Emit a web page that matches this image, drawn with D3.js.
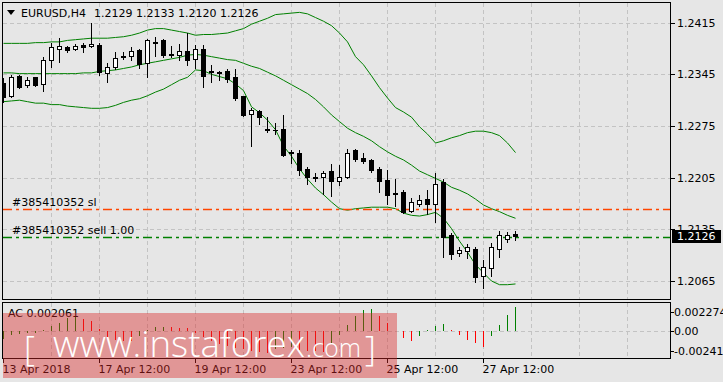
<!DOCTYPE html>
<html lang="en">
<head>
<meta charset="UTF-8">
<title>EURUSD,H4</title>
<style>
  html, body { margin: 0; padding: 0; background: #e6e6e6; }
  svg { display: block; font-family: "DejaVu Sans", sans-serif; }
</style>
</head>
<body>
<div id="chart"></div>
<script src="https://d3js.org/d3.v7.min.js"></script>
<script>

// H4 bars, 13 Apr 2018 12:00 .. 27 Apr 2018 20:00
const openP = [1.2333,1.2316,1.2343,1.2330,1.2341,1.2332,1.2364,1.2380,1.2382,1.2379,
  1.2385,1.2383,1.2385,1.2347,1.2355,1.2369,1.2370,1.2378,1.2360,1.2389,
  1.2392,1.2371,1.2371,1.2377,1.2366,1.2379,1.2349,1.2347,1.2349,1.2341,
  1.2315,1.2291,1.2296,1.2271,1.2270,1.2271,1.2240,1.2239,1.2217,1.2206,
  1.2206,1.2214,1.2201,1.2206,1.2242,1.2232,1.2229,1.2217,1.2202,1.2184,
  1.2186,1.2160,1.2170,1.2176,1.2170,1.2199,1.2127,1.2103,1.2106,1.2109,
  1.2072,1.2082,1.2109,1.2122,1.2129];
const highP = [1.2340,1.2344,1.2344,1.2341,1.2342,1.2369,1.2387,1.2394,1.2384,1.2386,
  1.2388,1.2414,1.2387,1.2360,1.2375,1.2375,1.2382,1.2380,1.2393,1.2396,
  1.2393,1.2384,1.2386,1.2401,1.2385,1.2385,1.2358,1.2350,1.2352,1.2352,
  1.2316,1.2300,1.2297,1.2287,1.2279,1.2290,1.2243,1.2243,1.2220,1.2211,
  1.2214,1.2224,1.2222,1.2244,1.2244,1.2238,1.2230,1.2220,1.2215,1.2203,
  1.2188,1.2177,1.2182,1.2188,1.2211,1.2203,1.2130,1.2111,1.2115,1.2111,
  1.2094,1.2116,1.2133,1.2132,1.2133];
const lowP = [1.2308,1.2314,1.2327,1.2328,1.2329,1.2323,1.2355,1.2362,1.2375,1.2378,
  1.2375,1.2382,1.2344,1.2335,1.2352,1.2366,1.2364,1.2353,1.2341,1.2370,
  1.2369,1.2369,1.2364,1.2358,1.2354,1.2328,1.2335,1.2337,1.2335,1.2310,
  1.2289,1.2248,1.2278,1.2267,1.2264,1.2235,1.2225,1.2209,1.2197,1.2201,
  1.2183,1.2180,1.2195,1.2204,1.2228,1.2225,1.2213,1.2186,1.2170,1.2166,
  1.2157,1.2158,1.2167,1.2156,1.2145,1.2097,1.2095,1.2099,1.2096,1.2063,
  1.2055,1.2072,1.2098,1.2118,1.2120];
const closeP = [1.2314,1.2341,1.2328,1.2338,1.2330,1.2365,1.2382,1.2383,1.2378,1.2383,
  1.2382,1.2386,1.2348,1.2355,1.2367,1.2370,1.2377,1.2359,1.2391,1.2388,
  1.2371,1.2372,1.2377,1.2365,1.2379,1.2343,1.2348,1.2348,1.2339,1.2313,
  1.2290,1.2297,1.2287,1.2270,1.2269,1.2236,1.2239,1.2216,1.2206,1.2205,
  1.2212,1.2201,1.2206,1.2239,1.2230,1.2228,1.2215,1.2201,1.2182,1.2183,
  1.2159,1.2172,1.2175,1.2170,1.2197,1.2124,1.2101,1.2107,1.2111,1.2070,
  1.2084,1.2111,1.2128,1.2128,1.2126];

// Bollinger bands as shown
const bbUpper = [1.2387,1.2387,1.2387,1.2387,1.2388,1.2388,1.2389,1.2389,1.2391,1.2392,
  1.2393,1.2394,1.2394,1.2394,1.2395,1.2396,1.2398,1.2401,1.2405,1.2407,
  1.2407,1.2405,1.2403,1.2401,1.2398,1.2399,1.2399,1.2400,1.2401,1.2404,
  1.2407,1.2413,1.2417,1.2421,1.2426,1.2427,1.2428,1.2429,1.2427,1.2422,
  1.2417,1.2411,1.2401,1.2389,1.2369,1.2358,1.2343,1.2327,1.2313,1.2300,
  1.2294,1.2287,1.2274,1.2264,1.2252,1.2255,1.2259,1.2262,1.2266,1.2268,
  1.2268,1.2266,1.2262,1.2252,1.2239];
const bbMiddle = [1.2347,1.2347,1.2346,1.2346,1.2346,1.2346,1.2346,1.2346,1.2346,1.2346,
  1.2347,1.2347,1.2349,1.2350,1.2351,1.2353,1.2355,1.2358,1.2360,1.2362,
  1.2364,1.2366,1.2368,1.2371,1.2372,1.2371,1.2369,1.2367,1.2365,1.2364,
  1.2360,1.2356,1.2353,1.2348,1.2343,1.2337,1.2331,1.2325,1.2319,1.2311,
  1.2301,1.2290,1.2281,1.2272,1.2266,1.2261,1.2255,1.2247,1.2240,1.2234,
  1.2229,1.2222,1.2214,1.2209,1.2204,1.2199,1.2192,1.2188,1.2183,1.2176,
  1.2168,1.2163,1.2159,1.2154,1.2150];
const bbLower = [1.2308,1.2309,1.2310,1.2308,1.2306,1.2306,1.2304,1.2304,1.2302,1.2301,
  1.2300,1.2299,1.2299,1.2300,1.2303,1.2307,1.2310,1.2312,1.2316,1.2321,
  1.2325,1.2331,1.2337,1.2341,1.2351,1.2350,1.2345,1.2342,1.2339,1.2332,
  1.2323,1.2301,1.2293,1.2283,1.2270,1.2248,1.2234,1.2217,1.2203,1.2191,
  1.2182,1.2172,1.2163,1.2161,1.2163,1.2164,1.2165,1.2165,1.2165,1.2163,
  1.2157,1.2154,1.2153,1.2155,1.2158,1.2150,1.2136,1.2119,1.2104,1.2087,
  1.2076,1.2065,1.2060,1.2060,1.2061];

// Accelerator Oscillator
const acValues = [-0.00070,-0.00040,-0.00030,-0.00022,-0.00018,0.00005,0.00043,0.00072,0.00112,0.00130,
  0.00104,0.00087,0.00015,-0.00058,-0.00080,-0.00088,-0.00094,-0.00044,0.00010,0.00030,
  0.00036,0.00031,0.00026,0.00022,-0.00020,-0.00058,-0.00088,-0.00120,-0.00135,-0.00150,
  -0.00165,-0.00175,-0.00185,-0.00195,-0.00160,-0.00150,-0.00140,-0.00170,-0.00175,-0.00180,
  -0.00185,-0.00120,-0.00040,0.00050,0.00130,0.00185,0.00190,0.00130,0.00068,-0.00005,
  -0.00060,-0.00090,-0.00050,0.00005,0.00040,0.00060,0.00005,-0.00035,-0.00080,-0.00110,
  -0.00140,-0.00050,0.00050,0.00135,0.002061];

const priceTicks = [1.2415, 1.2345, 1.2275, 1.2205, 1.2135, 1.2065];
const acTicks = [0.002274, 0, -0.00241];
const acTickLabels = ["0.002274", "0.00", "-0.00241"];
const timeIdx = [0, 12, 24, 36, 48, 60];
const timeLabels = ["13 Apr 2018", "17 Apr 12:00", "19 Apr 12:00", "23 Apr 12:00", "25 Apr 12:00", "27 Apr 12:00"];
const gridIdx = [6, 12, 18, 24, 30, 36, 42, 48, 54, 60, 66, 72, 78];

const symbol = "EURUSD,H4";
const orderSl = 1.2163, orderSlText = "#385410352 sl";
const orderOpen = 1.2124, orderOpenText = "#385410352 sell 1.00";
const bid = 1.2126;

const width = 723, height = 382;
const gridColor = "#c3c3c3";
const green = "#008000", red = "#ff0000";

const svg = d3.select("#chart").append("svg")
    .attr("width", width)
    .attr("height", height);

svg.append("rect").attr("width", width).attr("height", height).attr("fill", "#e6e6e6");

const x = d3.scaleLinear().domain([0, 64]).range([3, 515]);
const y = d3.scaleLinear().domain([1.2065, 1.2415]).range([281, 22.7]);
const yAc = d3.scaleLinear().domain([-0.00241, 0.002274]).range([358, 305]);
const px = v => Math.round(v) + 0.5;

svg.append("clipPath").attr("id", "mainClip")
  .append("rect").attr("x", 3).attr("y", 3).attr("width", 667).attr("height", 296);
svg.append("clipPath").attr("id", "subClip")
  .append("rect").attr("x", 3).attr("y", 303).attr("width", 667).attr("height", 55);

const main = svg.append("g").attr("clip-path", "url(#mainClip)");
const sub = svg.append("g").attr("clip-path", "url(#subClip)");

// grid
main.selectAll(".hgrid").data(priceTicks).enter().append("line")
    .attr("x1", 3).attr("x2", 670)
    .attr("y1", d => px(y(d))).attr("y2", d => px(y(d)))
    .attr("stroke", gridColor).attr("stroke-dasharray", "4,3");
main.selectAll(".vgrid").data(gridIdx).enter().append("line")
    .attr("x1", d => x(d) + 0.5).attr("x2", d => x(d) + 0.5)
    .attr("y1", 3).attr("y2", 300)
    .attr("stroke", gridColor).attr("stroke-dasharray", "4,3");
sub.selectAll(".vgrid").data(gridIdx).enter().append("line")
    .attr("x1", d => x(d) + 0.5).attr("x2", d => x(d) + 0.5)
    .attr("y1", 303).attr("y2", 358)
    .attr("stroke", gridColor).attr("stroke-dasharray", "4,3");
sub.append("line")
    .attr("x1", 3).attr("x2", 670)
    .attr("y1", px(yAc(0))).attr("y2", px(yAc(0)))
    .attr("stroke", gridColor).attr("stroke-dasharray", "4,3");

// Bollinger bands
const bandLine = d3.line().x((d, i) => x(i) + 0.5).y(d => y(d));
[bbUpper, bbMiddle, bbLower].forEach(band => {
    main.append("path")
        .attr("d", bandLine(band))
        .attr("fill", "none")
        .attr("stroke", green)
        .attr("stroke-width", 1);
});

// order lines
main.append("line")
    .attr("x1", 3).attr("x2", 670)
    .attr("y1", px(y(orderSl))).attr("y2", px(y(orderSl)))
    .attr("stroke", "#ff4500").attr("stroke-width", 1.3)
    .attr("stroke-dasharray", "9,4,3,4");
main.append("line")
    .attr("x1", 3).attr("x2", 670)
    .attr("y1", px(y(orderOpen))).attr("y2", px(y(orderOpen)))
    .attr("stroke", green).attr("stroke-width", 1.3)
    .attr("stroke-dasharray", "9,4,3,4");
main.append("text").attr("x", 12).attr("y", px(y(orderSl)) - 4)
    .attr("font-size", 11).attr("fill", "#000").text(orderSlText);
main.append("text").attr("x", 12).attr("y", px(y(orderOpen)) - 3.5)
    .attr("font-size", 11).attr("fill", "#000").text(orderOpenText);

// candles
const bars = openP.map((o, i) => ({ i: i, o: o, h: highP[i], l: lowP[i], c: closeP[i] }));
const candle = main.selectAll(".candle").data(bars).enter().append("g");
candle.append("line")
    .attr("x1", d => x(d.i) + 0.5).attr("x2", d => x(d.i) + 0.5)
    .attr("y1", d => Math.round(y(d.h))).attr("y2", d => Math.round(y(d.l)) + 1)
    .attr("stroke", "#000");
candle.each(function(d) {
    const g = d3.select(this);
    const top = Math.round(y(Math.max(d.o, d.c)));
    const bot = Math.round(y(Math.min(d.o, d.c)));
    if (d.c > d.o) {
        g.append("rect")
            .attr("x", x(d.i) - 1.5).attr("y", top + 0.5)
            .attr("width", 4).attr("height", Math.max(1, bot - top))
            .attr("fill", "#fff").attr("stroke", "#000");
    } else {
        g.append("rect")
            .attr("x", x(d.i) - 2).attr("y", top)
            .attr("width", 5).attr("height", Math.max(1, bot - top + 1))
            .attr("fill", "#000");
    }
});

// AC histogram
sub.selectAll(".ac").data(acValues).enter().append("line")
    .attr("x1", (d, i) => x(i) + 0.5).attr("x2", (d, i) => x(i) + 0.5)
    .attr("y1", Math.round(yAc(0)))
    .attr("y2", d => Math.round(yAc(d)))
    .attr("stroke", (d, i) => (i === 0 || d >= acValues[i - 1]) ? green : red);

// frames
svg.append("rect").attr("x", 2.5).attr("y", 2.5).attr("width", 668).attr("height", 297)
    .attr("fill", "none").attr("stroke", "#000");
svg.append("rect").attr("x", 2.5).attr("y", 302.5).attr("width", 668).attr("height", 56)
    .attr("fill", "none").attr("stroke", "#000");

// price axis
svg.selectAll(".ptick").data(priceTicks).enter().append("line")
    .attr("x1", 671).attr("x2", 675)
    .attr("y1", d => px(y(d))).attr("y2", d => px(y(d)))
    .attr("stroke", "#000");
svg.selectAll(".plabel").data(priceTicks).enter().append("text")
    .attr("x", 677).attr("y", d => y(d) + 4)
    .attr("font-size", 11).attr("fill", "#000")
    .text(d => d.toFixed(4));

// bid box
svg.append("rect").attr("x", 672).attr("y", Math.round(y(bid)) - 6)
    .attr("width", 49).attr("height", 13).attr("fill", "#000");
svg.append("text").attr("x", 677).attr("y", y(bid) + 4)
    .attr("font-size", 11).attr("fill", "#fff").text(bid.toFixed(4));

// AC axis
const acLabelY = d => d > 0 ? yAc(d) + 7 : (d < 0 ? yAc(d) - 7 : yAc(d));
svg.selectAll(".acTick").data(acTicks).enter().append("line")
    .attr("x1", 671).attr("x2", 674)
    .attr("y1", d => px(acLabelY(d))).attr("y2", d => px(acLabelY(d)))
    .attr("stroke", "#000");
svg.selectAll(".acLabel").data(acTicks).enter().append("text")
    .attr("x", 674).attr("y", d => acLabelY(d) + 4)
    .attr("font-size", 11).attr("fill", "#000")
    .text((d, i) => acTickLabels[i]);

// time axis
svg.selectAll(".tTick").data(timeIdx).enter().append("line")
    .attr("x1", d => x(d) + 0.5).attr("x2", d => x(d) + 0.5)
    .attr("y1", 359).attr("y2", 363)
    .attr("stroke", "#000");
svg.selectAll(".tLabel").data(timeIdx).enter().append("text")
    .attr("x", d => x(d) - 0.5).attr("y", 373)
    .attr("font-size", 11).attr("fill", "#000")
    .text((d, i) => timeLabels[i]);

// header
svg.append("path").attr("d", "M7,10 L15,10 L11,15 Z").attr("fill", "#000");
svg.append("text").attr("x", 21).attr("y", 16.5).attr("font-size", 11).attr("fill", "#000")
    .text(symbol);
const last = openP.length - 1;
svg.append("text").attr("x", 94).attr("y", 16.5).attr("font-size", 11).attr("fill", "#000")
    .text([openP[last], highP[last], lowP[last], closeP[last]].map(v => v.toFixed(4)).join(" "));
svg.append("text").attr("x", 8).attr("y", 317).attr("font-size", 11).attr("fill", "#000")
    .text("AC " + acValues[last].toFixed(6));

// watermark
const wm = svg.append("g");
wm.append("rect").attr("x", 3).attr("y", 313).attr("width", 394).attr("height", 65)
    .attr("fill", "rgb(220,40,40)").attr("opacity", 0.42);
const wmFont = "'Open Sans', 'DejaVu Sans', sans-serif";
wm.append("text").attr("x", 24).attr("y", 361).attr("font-family", wmFont)
    .attr("font-size", 34).attr("font-weight", 300).attr("fill", "#fff").text("[");
wm.append("text").attr("x", 53).attr("y", 357).attr("font-family", wmFont)
    .attr("font-size", 37).attr("font-weight", 300).attr("fill", "#fff")
    .attr("textLength", 252).attr("lengthAdjust", "spacingAndGlyphs").text("www.instaforex");
wm.append("text").attr("x", 306).attr("y", 357).attr("font-family", wmFont)
    .attr("font-size", 25).attr("font-weight", 300).attr("fill", "#fff")
    .attr("textLength", 55).attr("lengthAdjust", "spacingAndGlyphs").text(".com");
wm.append("text").attr("x", 365).attr("y", 361).attr("font-family", wmFont)
    .attr("font-size", 34).attr("font-weight", 300).attr("fill", "#fff").text("]");

</script>
</body>
</html>
